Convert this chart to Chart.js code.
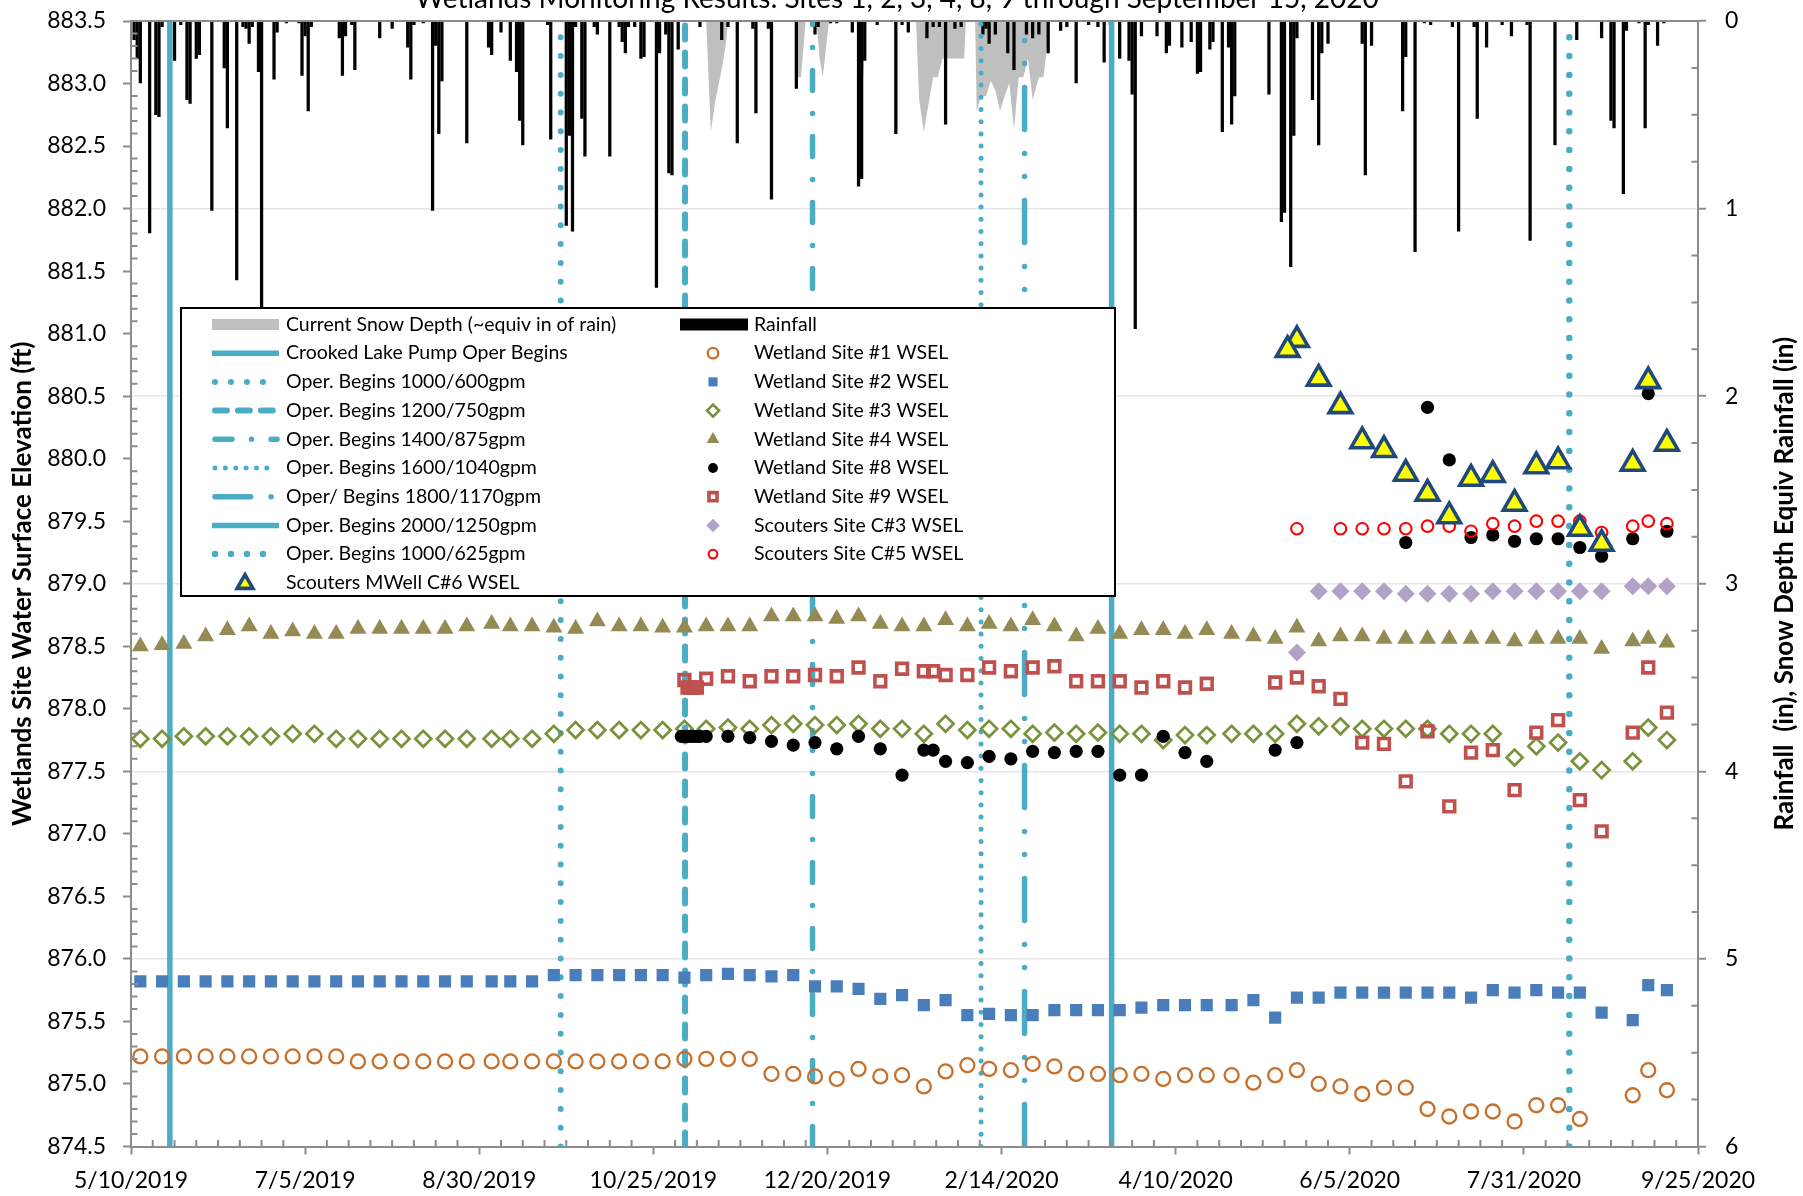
<!DOCTYPE html>
<html>
<head>
<meta charset="utf-8">
<script src="https://cdn.jsdelivr.net/npm/chart.js@4.4.1/dist/chart.umd.min.js"></script>
<style>
  html, body { margin: 0; padding: 0; background: #fff; }
  #c { display: block; }
</style>
</head>
<body>
<canvas id="c" width="1803" height="1196"></canvas>
<script>
// x values are days counted from 5/10/2019
const chartTitle = 'Wetlands Monitoring Results: Sites 1, 2, 3, 4, 8, 9 through September 15, 2020';
const leftAxisTitle = 'Wetlands Site Water Surface Elevation (ft)';
const rightAxisTitle = 'Rainfall  (in), Snow Depth Equiv Rainfall (in)';
const xTickLabels = ['5/10/2019', '7/5/2019', '8/30/2019', '10/25/2019', '12/20/2019',
  '2/14/2020', '4/10/2020', '6/5/2020', '7/31/2020', '9/25/2020'];

// weekly sampling dates
const sampleDays = [3, 10, 17, 24, 31, 38, 45, 52, 59, 66,
  73, 80, 87, 94, 101, 108, 116, 122, 129, 136,
  143, 150, 157, 164, 171, 178, 185, 192, 199, 206,
  213, 220, 227, 234, 241, 248, 255, 262, 269, 276,
  283, 290, 297, 304, 311, 318, 325, 332, 339, 346,
  354, 361, 368, 375, 382, 389, 396, 403, 410, 417,
  424, 431, 438, 445, 452, 459, 466, 473, 483, 488,
  494];

const site1 = [875.22, 875.22, 875.22, 875.22, 875.22, 875.22, 875.22, 875.22, 875.22, 875.22,
  875.18, 875.18, 875.18, 875.18, 875.18, 875.18, 875.18, 875.18, 875.18, 875.18,
  875.18, 875.18, 875.18, 875.18, 875.18, 875.20, 875.20, 875.20, 875.20, 875.08,
  875.08, 875.06, 875.04, 875.12, 875.06, 875.07, 874.98, 875.10, 875.15, 875.12,
  875.11, 875.16, 875.14, 875.08, 875.08, 875.07, 875.08, 875.04, 875.07, 875.07,
  875.07, 875.01, 875.07, 875.11, 875.00, 874.98, 874.92, 874.97, 874.97, 874.80,
  874.74, 874.78, 874.78, 874.70, 874.83, 874.83, 874.72, null, 874.91, 875.11,
  874.95];

const site2 = [875.82, 875.82, 875.82, 875.82, 875.82, 875.82, 875.82, 875.82, 875.82, 875.82,
  875.82, 875.82, 875.82, 875.82, 875.82, 875.82, 875.82, 875.82, 875.82, 875.87,
  875.87, 875.87, 875.87, 875.87, 875.87, 875.85, 875.87, 875.88, 875.87, 875.86,
  875.87, 875.78, 875.78, 875.76, 875.68, 875.71, 875.63, 875.67, 875.55, 875.56,
  875.55, 875.55, 875.59, 875.59, 875.59, 875.59, 875.61, 875.63, 875.63, 875.63,
  875.63, 875.67, 875.53, 875.69, 875.69, 875.73, 875.73, 875.73, 875.73, 875.73,
  875.73, 875.69, 875.75, 875.73, 875.75, 875.73, 875.73, 875.57, 875.51, 875.79,
  875.75];

const site3 = [877.76, 877.76, 877.78, 877.78, 877.78, 877.78, 877.78, 877.80, 877.80, 877.76,
  877.76, 877.76, 877.76, 877.76, 877.76, 877.76, 877.76, 877.76, 877.76, 877.80,
  877.83, 877.83, 877.83, 877.83, 877.83, 877.84, 877.84, 877.85, 877.84, 877.87,
  877.88, 877.87, 877.87, 877.88, 877.84, 877.84, 877.80, 877.88, 877.83, 877.84,
  877.84, 877.80, 877.81, 877.80, 877.81, 877.80, 877.80, 877.75, 877.79, 877.79,
  877.80, 877.80, 877.80, 877.88, 877.86, 877.86, 877.84, 877.84, 877.84, 877.84,
  877.80, 877.80, 877.80, 877.61, 877.70, 877.73, 877.58, 877.51, 877.58, 877.85,
  877.75];

const site4 = [878.50, 878.51, 878.52, 878.58, 878.63, 878.66, 878.60, 878.62, 878.60, 878.60,
  878.64, 878.64, 878.64, 878.64, 878.64, 878.66, 878.68, 878.66, 878.66, 878.65,
  878.64, 878.70, 878.66, 878.66, 878.65, 878.65, 878.66, 878.66, 878.66, 878.74,
  878.74, 878.74, 878.72, 878.74, 878.68, 878.66, 878.66, 878.71, 878.66, 878.68,
  878.66, 878.71, 878.66, 878.58, 878.64, 878.60, 878.63, 878.63, 878.60, 878.63,
  878.60, 878.58, 878.56, 878.65, 878.54, 878.58, 878.58, 878.56, 878.56, 878.56,
  878.56, 878.56, 878.56, 878.54, 878.56, 878.56, 878.56, 878.48, 878.54, 878.56,
  878.53];

const site8 = [null, null, null, null, null, null, null, null, null, null,
  null, null, null, null, null, null, null, null, null, null,
  null, null, null, null, null, 877.78, 877.78, 877.78, 877.77, 877.74,
  877.71, 877.73, 877.68, 877.78, 877.68, 877.47, 877.67, 877.58, 877.57, 877.62,
  877.60, 877.66, 877.65, 877.66, 877.66, 877.47, 877.47, 877.78, 877.65, 877.58,
  null, null, 877.67, 877.73, null, null, null, null, 879.33, 880.41,
  879.99, 879.37, 879.39, 879.34, 879.36, 879.36, 879.29, 879.22, 879.36, 880.52,
  879.42];
const site8ExtraDays = [177, 179, 180, 181, 182, 183, 258];
const site8ExtraVals = [877.78, 877.78, 877.78, 877.78, 877.78, 877.78, 877.67];

const site9 = [null, null, null, null, null, null, null, null, null, null,
  null, null, null, null, null, null, null, null, null, null,
  null, null, null, null, null, 878.23, 878.24, 878.26, 878.22, 878.26,
  878.26, 878.27, 878.26, 878.33, 878.22, 878.32, 878.30, 878.27, 878.27, 878.33,
  878.30, 878.33, 878.34, 878.22, 878.22, 878.22, 878.17, 878.22, 878.17, 878.20,
  null, null, 878.21, 878.25, 878.18, 878.08, 877.73, 877.72, 877.42, 877.82,
  877.22, 877.65, 877.67, 877.35, 877.81, 877.91, 877.27, 877.02, 877.81, 878.33,
  877.97];
const site9ExtraDays = [179, 180, 181, 182, 258];
const site9ExtraVals = [878.17, 878.17, 878.17, 878.17, 878.30];

const scoutC3 = [null, null, null, null, null, null, null, null, null, null,
  null, null, null, null, null, null, null, null, null, null,
  null, null, null, null, null, null, null, null, null, null,
  null, null, null, null, null, null, null, null, null, null,
  null, null, null, null, null, null, null, null, null, null,
  null, null, null, 878.45, 878.94, 878.94, 878.94, 878.94, 878.92, 878.92,
  878.92, 878.92, 878.94, 878.94, 878.94, 878.94, 878.94, 878.94, 878.98, 878.98,
  878.98];

const scoutC5 = [null, null, null, null, null, null, null, null, null, null,
  null, null, null, null, null, null, null, null, null, null,
  null, null, null, null, null, null, null, null, null, null,
  null, null, null, null, null, null, null, null, null, null,
  null, null, null, null, null, null, null, null, null, null,
  null, null, null, 879.44, null, 879.44, 879.44, 879.44, 879.44, 879.46,
  879.46, 879.42, 879.48, 879.46, 879.50, 879.50, 879.50, 879.41, 879.46, 879.50,
  879.48];

const scoutC6 = [null, null, null, null, null, null, null, null, null, null,
  null, null, null, null, null, null, null, null, null, null,
  null, null, null, null, null, null, null, null, null, null,
  null, null, null, null, null, null, null, null, null, null,
  null, null, null, null, null, null, null, null, null, null,
  null, null, null, 880.95, 880.64, 880.42, 880.14, 880.07, 879.88, 879.72,
  879.54, 879.84, 879.87, 879.64, 879.94, 879.98, 879.44, 879.32, 879.96, 880.62,
  880.12];
const scoutC6ExtraDays = [372];
const scoutC6ExtraVals = [880.87];

// daily rainfall [day, inches]
const rainfall = [[1, 0.10], [2, 0.20], [3, 0.33], [6, 1.13], [8, 0.50], [9, 0.51], [10, 0.03], [14, 0.21],
  [16, 0.02], [18, 0.42], [19, 0.44], [21, 0.20], [22, 0.18], [26, 1.01], [30, 0.25], [31, 0.57],
  [34, 1.38], [36, 0.03], [37, 0.04], [38, 0.12], [39, 0.03], [41, 0.27], [42, 1.54], [46, 0.31],
  [47, 0.06], [50, 0.01], [54, 0.01], [55, 0.29], [56, 0.08], [57, 0.48], [58, 0.03], [67, 0.09],
  [68, 0.29], [69, 0.08], [71, 0.02], [72, 0.26], [80, 0.09], [84, 0.04], [89, 0.14], [90, 0.31],
  [91, 0.02], [94, 0.01], [97, 1.01], [98, 0.13], [99, 0.60], [100, 0.32], [108, 0.65], [115, 0.14],
  [116, 0.18], [119, 0.06], [122, 0.21], [124, 0.27], [125, 0.53], [126, 0.66], [134, 0.02], [135, 0.63],
  [140, 1.09], [141, 0.61], [142, 1.12], [143, 0.03], [145, 0.52], [146, 0.72], [149, 0.03], [150, 0.07],
  [154, 0.72], [157, 0.03], [158, 0.11], [159, 0.17], [160, 0.03], [162, 0.03], [164, 0.20], [165, 0.19],
  [169, 1.42], [170, 0.17], [172, 0.07], [173, 0.81], [174, 0.82], [176, 0.15], [183, 0.03], [190, 0.10],
  [192, 0.03], [195, 0.65], [200, 0.04], [201, 0.49], [205, 0.04], [206, 0.95], [214, 0.36], [220, 0.07],
  [221, 0.03], [225, 0.01], [227, 0.01], [232, 0.06], [234, 0.88], [235, 0.84], [236, 0.21], [240, 0.02],
  [246, 0.60], [248, 0.02], [250, 0.06], [256, 0.09], [258, 0.03], [260, 0.03], [262, 0.55], [265, 0.04],
  [267, 0.03], [274, 0.07], [275, 0.04], [276, 0.12], [278, 0.07], [282, 0.17], [284, 0.26], [288, 0.07],
  [290, 0.09], [292, 0.07], [295, 0.17], [299, 0.05], [301, 0.03], [304, 0.33], [308, 0.02], [311, 0.03],
  [313, 0.22], [315, 0.02], [318, 0.20], [321, 0.21], [322, 0.39], [323, 1.64], [325, 0.08], [330, 0.08],
  [333, 0.17], [334, 0.13], [338, 0.14], [341, 0.11], [343, 0.28], [344, 0.27], [347, 0.15], [348, 0.11],
  [351, 0.59], [353, 0.14], [354, 0.55], [355, 0.40], [366, 0.39], [370, 1.07], [371, 1.02], [373, 1.31],
  [374, 0.61], [375, 0.09], [380, 0.42], [382, 0.66], [383, 0.17], [385, 0.12], [396, 0.12], [397, 0.82],
  [399, 0.13], [409, 0.48], [410, 0.19], [413, 1.23], [416, 0.01], [418, 0.02], [425, 0.03], [427, 1.12],
  [432, 0.03], [433, 0.52], [436, 0.14], [441, 0.02], [444, 0.08], [449, 0.02], [450, 1.17], [458, 0.66],
  [465, 0.10], [473, 0.09], [476, 0.53], [477, 0.57], [480, 0.92], [481, 0.05], [485, 0.01], [487, 0.57],
  [488, 0.02], [491, 0.13], [493, 0.01]];

// snow depth as equivalent inches of rain [day, inches]
const snowDepth = [[0, 0], [185, 0], [186.5, 0.59], [188, 0.42], [189.5, 0.30], [190.5, 0.21], [191.5, 0.10], [192, 0],
  [213.5, 0], [214, 0.30], [215.5, 0.30], [217, 0],
  [220.5, 0], [221.5, 0.20], [222.5, 0.30], [224.5, 0],
  [234.5, 0], [235.5, 0.30], [236.5, 0],
  [252.5, 0], [253.5, 0.42], [255, 0.59], [256, 0.49], [258, 0.30], [259.5, 0.30], [261, 0.20], [268, 0.20], [268.5, 0],
  [271.5, 0], [272, 0.48], [273.5, 0.40], [275, 0.40], [276.5, 0.32], [278, 0.37], [279.5, 0.48], [281, 0.40],
  [282.5, 0.33], [284, 0.58], [285.5, 0.30], [287, 0.30], [288.5, 0.20], [290, 0.42], [292, 0.30], [293.5, 0.30],
  [295.5, 0], [504, 0]];

// pump operation start dates
const opLabels = ['Crooked Lake Pump Oper Begins', 'Oper. Begins 1000/600gpm', 'Oper. Begins 1200/750gpm',
  'Oper. Begins 1400/875gpm', 'Oper. Begins 1600/1040gpm', 'Oper/ Begins 1800/1170gpm',
  'Oper. Begins 2000/1250gpm', 'Oper. Begins 1000/625gpm'];
const opDays = [12.5, 138.2, 178.2, 219.2, 273.4, 287.4, 315.4, 462.6];

// ---- styles ----
const axisGrey = '#8C8C8C';
const opColor = '#4BACC6';
const opStyles = [
  { w: 5.5, dash: [], cap: 'butt' },
  { w: 6, dash: [0, 18.8], cap: 'round' },
  { w: 6, dash: [14, 13], cap: 'round' },
  { w: 5.5, dash: [20, 23, 0, 23], cap: 'round' },
  { w: 5, dash: [0, 12.2], cap: 'round' },
  { w: 5.5, dash: [42, 24, 0, 23, 0, 24], cap: 'round' },
  { w: 5.5, dash: [], cap: 'butt' },
  { w: 6.5, dash: [0, 18.8], cap: 'round' }
];
const none = 'rgba(0,0,0,0)';
const markers = [
  { label: 'Wetland Site #1 WSEL', days: sampleDays, vals: site1, pointStyle: 'circle', radius: 7, borderWidth: 2.3, borderColor: '#C6702C', backgroundColor: none },
  { label: 'Wetland Site #2 WSEL', days: sampleDays, vals: site2, pointStyle: 'rect', radius: 8.6, borderWidth: 0, borderColor: '#4A7EBB', backgroundColor: '#4A7EBB' },
  { label: 'Wetland Site #3 WSEL', days: sampleDays, vals: site3, pointStyle: 'rectRot', radius: 8, borderWidth: 2.7, borderColor: '#77933C', backgroundColor: none },
  { label: 'Wetland Site #4 WSEL', days: sampleDays, vals: site4, pointStyle: 'triangle', radius: 9.8, borderWidth: 0, borderColor: '#948A54', backgroundColor: '#948A54' },
  { label: 'Wetland Site #8 WSEL', days: sampleDays.concat(site8ExtraDays), vals: site8.concat(site8ExtraVals), pointStyle: 'circle', radius: 6.6, borderWidth: 0, borderColor: '#000', backgroundColor: '#000' },
  { label: 'Wetland Site #9 WSEL', days: sampleDays.concat(site9ExtraDays), vals: site9.concat(site9ExtraVals), pointStyle: 'rect', radius: 7.6, borderWidth: 3.6, borderColor: '#C0504D', backgroundColor: none },
  { label: 'Scouters Site C#3 WSEL', days: sampleDays, vals: scoutC3, pointStyle: 'rectRot', radius: 9, borderWidth: 0, borderColor: '#B3A2C7', backgroundColor: '#B3A2C7' },
  { label: 'Scouters Site C#5 WSEL', days: sampleDays, vals: scoutC5, pointStyle: 'circle', radius: 5.8, borderWidth: 2.1, borderColor: '#FF0000', backgroundColor: none },
  { label: 'Scouters MWell C#6 WSEL', days: sampleDays.concat(scoutC6ExtraDays), vals: scoutC6.concat(scoutC6ExtraVals), pointStyle: 'triangle', radius: 13, borderWidth: 3.6, borderColor: '#1F497D', backgroundColor: '#FFFF00' }
];

function toPoints(days, vals) {
  return days.map((d, i) => ({ x: d, y: vals[i] })).filter(p => p.y !== null);
}

const datasets = [];
datasets.push({
  type: 'line', label: 'Current Snow Depth (~equiv in of rain)', yAxisID: 'yR',
  data: snowDepth.map(p => ({ x: p[0], y: p[1] })),
  fill: 'origin', backgroundColor: '#BFBFBF', borderWidth: 0, pointRadius: 0, tension: 0, order: 100
});
datasets.push({
  type: 'bar', label: 'Rainfall', yAxisID: 'yR',
  data: rainfall.map(p => ({ x: p[0], y: p[1] })),
  backgroundColor: '#000', barThickness: 2.6, order: 99
});
opDays.forEach((d, i) => {
  const st = opStyles[i];
  datasets.push({
    type: 'line', label: opLabels[i], yAxisID: 'y',
    data: [{ x: d, y: 874.5 }, { x: d, y: 883.5 }],
    borderColor: opColor, borderWidth: st.w, borderDash: st.dash, borderCapStyle: st.cap,
    pointRadius: 0, fill: false, order: 90 - i
  });
});
markers.forEach((m, i) => {
  datasets.push({
    type: 'scatter', label: m.label, yAxisID: 'y',
    data: toPoints(m.days, m.vals),
    pointStyle: m.pointStyle, pointRadius: m.radius, pointBorderWidth: m.borderWidth,
    pointBorderColor: m.borderColor, pointBackgroundColor: m.backgroundColor,
    borderColor: m.borderColor, backgroundColor: m.backgroundColor,
    showLine: false, order: 20 - i
  });
});

// legend, titles and minor ticks drawn on top of the chart
const decor = {
  id: 'decor',
  afterDraw(chart) {
    const { ctx, chartArea: a, scales } = chart;
    ctx.save();
    ctx.strokeStyle = axisGrey;
    ctx.lineWidth = 2;
    ctx.beginPath();
    ctx.moveTo(a.left, a.top); ctx.lineTo(a.right, a.top);
    // minor ticks (inside)
    for (let d = 7; d < 504; d += 7) {
      if (d % 56 === 0) continue;
      const px = scales.x.getPixelForValue(d);
      ctx.moveTo(px, a.bottom); ctx.lineTo(px, a.bottom - 6.5);
    }
    for (let k = 1; k < 90; k++) {
      if (k % 5 === 0) continue;
      const py = scales.y.getPixelForValue(874.5 + k / 10);
      ctx.moveTo(a.left, py); ctx.lineTo(a.left + 6.5, py);
    }
    for (let k = 1; k < 24; k++) {
      if (k % 4 === 0) continue;
      const py = scales.yR.getPixelForValue(k / 4);
      ctx.moveTo(a.right, py); ctx.lineTo(a.right - 6.5, py);
    }
    ctx.stroke();

    // title (cut off at top edge like the original)
    ctx.fillStyle = '#000';
    ctx.font = '28px Lato';
    ctx.textAlign = 'center';
    ctx.textBaseline = 'alphabetic';
    ctx.fillText(chartTitle, 897, 8);

    // axis titles
    ctx.font = 'bold 26px Lato';
    ctx.textBaseline = 'middle';
    const cy = (a.top + a.bottom) / 2;
    ctx.save(); ctx.translate(23, cy); ctx.rotate(-Math.PI / 2); ctx.fillText(leftAxisTitle, 0, 0); ctx.restore();
    ctx.save(); ctx.translate(1785, cy); ctx.rotate(-Math.PI / 2); ctx.fillText(rightAxisTitle, 0, 0); ctx.restore();

    // legend box
    const box = { l: 181, t: 308, r: 1115, b: 596 };
    ctx.fillStyle = '#fff';
    ctx.fillRect(box.l, box.t, box.r - box.l, box.b - box.t);
    ctx.strokeStyle = '#000';
    ctx.lineWidth = 2;
    ctx.strokeRect(box.l, box.t, box.r - box.l, box.b - box.t);

    const rowY = (r) => 324.5 + r * 28.7;
    ctx.font = '19.5px Lato';
    ctx.textAlign = 'left';
    ctx.textBaseline = 'middle';
    const text = (s, x, y) => { ctx.fillStyle = '#000'; ctx.fillText(s, x, y); };
    const drawMarker = (m, x, y, scale) => {
      ctx.fillStyle = m.backgroundColor;
      ctx.strokeStyle = m.borderColor;
      ctx.lineWidth = m.borderWidth;
      ctx.setLineDash([]);
      Chart.helpers.drawPoint(ctx, { pointStyle: m.pointStyle, radius: m.radius * scale, borderWidth: m.borderWidth, rotation: 0 }, x, y);
    };

    // left column
    ctx.fillStyle = '#BFBFBF';
    ctx.fillRect(212, rowY(0) - 5.5, 67, 11);
    text('Current Snow Depth (~equiv in of rain)', 286, rowY(0));
    opLabels.forEach((lab, i) => {
      const st = opStyles[i];
      const y = rowY(i + 1);
      ctx.save();
      ctx.strokeStyle = opColor;
      ctx.lineWidth = st.w;
      ctx.lineCap = st.cap;
      ctx.setLineDash(st.dash.map(v => v * 0.85));
      ctx.beginPath();
      ctx.moveTo(st.cap === 'round' ? 215 : 212, y); ctx.lineTo(st.cap === 'round' ? 277 : 279, y);
      ctx.stroke();
      ctx.restore();
      text(lab, 286, y);
    });
    drawMarker(markers[8], 245, rowY(9) + 1, 0.7);
    text(markers[8].label, 286, rowY(9));

    // right column
    ctx.fillStyle = '#000';
    ctx.fillRect(680, rowY(0) - 6, 68, 12);
    text('Rainfall', 754, rowY(0));
    for (let i = 0; i < 8; i++) {
      const y = rowY(i + 1);
      drawMarker(markers[i], 713, y, 0.75);
      text(markers[i].label, 754, y);
    }
    ctx.restore();
  }
};

// vertical axes: no extra room above/below the plot for the end labels
const noEndPadding = (s, w) => { s.width = w; s.paddingTop = 0; s.paddingBottom = 0; };

Chart.defaults.font.family = 'Lato';
Chart.defaults.color = '#000';

new Chart(document.getElementById('c'), {
  type: 'scatter',
  data: { datasets },
  options: {
    responsive: false,
    animation: false,
    devicePixelRatio: 1,
    layout: { padding: { top: 21, left: 0, right: 0, bottom: 0 } },
    plugins: { legend: { display: false }, tooltip: { enabled: false }, title: { display: false } },
    scales: {
      x: {
        type: 'linear', position: 'bottom', min: 0, max: 504, offset: false,
        ticks: {
          stepSize: 56, autoSkip: false, maxRotation: 0, padding: 12.5, color: '#000', font: { size: 23 },
          callback: (v) => xTickLabels[Math.round(v / 56)] || ''
        },
        grid: { drawOnChartArea: false, offset: false, tickLength: 8, tickColor: axisGrey, tickWidth: 2 },
        border: { color: axisGrey, width: 2 },
        afterFit: (s) => { s.height = 49.5; s.paddingLeft = 0; s.paddingRight = 0; }
      },
      y: {
        type: 'linear', position: 'left', min: 874.5, max: 883.5,
        ticks: { stepSize: 0.5, padding: 17, color: '#000', font: { size: 23 }, callback: (v) => v.toFixed(1) },
        grid: { drawOnChartArea: false, tickLength: 8, tickColor: axisGrey, tickWidth: 2 },
        border: { color: axisGrey, width: 2 },
        afterFit: (s) => noEndPadding(s, 131)
      },
      yR: {
        type: 'linear', position: 'right', min: 0, max: 6, reverse: true,
        ticks: { stepSize: 1, padding: 19, color: '#000', font: { size: 23 } },
        grid: { drawOnChartArea: true, color: '#E6E6E6', lineWidth: 1.5, tickLength: 8, tickColor: axisGrey, tickWidth: 2 },
        border: { color: axisGrey, width: 2 },
        afterFit: (s) => noEndPadding(s, 105)
      }
    }
  },
  plugins: [decor]
});
</script>
</body>
</html>
